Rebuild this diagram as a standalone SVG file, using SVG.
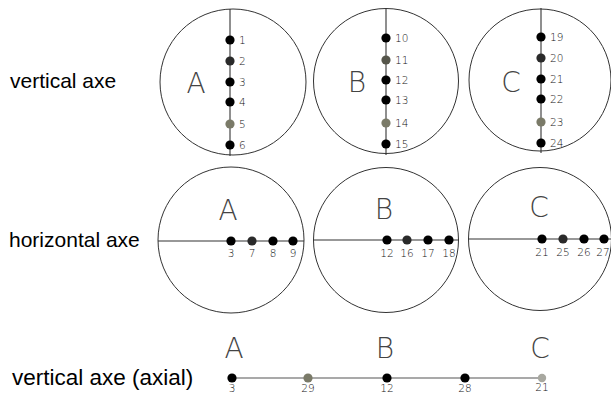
<svg xmlns="http://www.w3.org/2000/svg" width="611" height="394" viewBox="0 0 611 394">
<style>
.bg{fill:#fff}
.ring{fill:none;stroke:#333;stroke-width:1}
.axis{stroke:#333;stroke-width:1.1;fill:none}
.dot{stroke:none}
.k{fill:#000}
.g1{fill:#2a2a2a}
.g2{fill:#55554a}
.g3{fill:#7a7a68}
.g4{fill:#a8a8a0}
.num{font-family:"DejaVu Sans","Liberation Sans",sans-serif;font-weight:200;font-size:10.5px;fill:#111}
.let{font-family:"DejaVu Sans","Liberation Sans",sans-serif;font-weight:200;font-size:28px;fill:#444;text-anchor:middle}
.title{font-family:"Liberation Sans",Arial,sans-serif;font-size:21px;fill:#000}
.mid{text-anchor:middle}
</style>
<rect class="bg" x="0" y="0" width="611" height="394"/>

<g id="row-labels">
<text class="title" x="10" y="88">vertical axe</text>
<text class="title" x="9" y="247">horizontal axe</text>
<text class="title" x="12" y="385" style="font-size:22.5px">vertical axe (axial)</text>
</g>

<g id="connectors">
<line class="axis" x1="230" y1="9" x2="230" y2="156"/>
<line class="axis" x1="386" y1="8" x2="386" y2="155"/>
<line class="axis" x1="541" y1="8" x2="541" y2="153"/>
<line class="axis" x1="158" y1="241" x2="304" y2="241"/>
<line class="axis" x1="314" y1="240" x2="459" y2="240"/>
<line class="axis" x1="469" y1="239" x2="611" y2="239"/>
<line class="axis" x1="232" y1="378" x2="542" y2="378" style="stroke:#555"/>
</g>

<g id="vertical-A">
<circle class="ring" cx="233" cy="82" r="73"/>
<text class="let" x="196" y="93">A</text>
<circle class="dot k" cx="230" cy="40" r="4.6"/>
<circle class="dot g1" cx="230" cy="61" r="4.6"/>
<circle class="dot k" cx="230" cy="82" r="4.6"/>
<circle class="dot k" cx="230" cy="102" r="4.6"/>
<circle class="dot g3" cx="230" cy="124" r="4.6"/>
<circle class="dot k" cx="230" cy="145" r="4.6"/>
<text class="num" x="239" y="44">1</text>
<text class="num" x="239" y="65">2</text>
<text class="num" x="239" y="86">3</text>
<text class="num" x="239" y="106">4</text>
<text class="num" x="239" y="128">5</text>
<text class="num" x="239" y="149">6</text>
</g>

<g id="vertical-B">
<circle class="ring" cx="386" cy="81" r="72.5"/>
<text class="let" x="357" y="92">B</text>
<circle class="dot k" cx="386" cy="38" r="4.6"/>
<circle class="dot g2" cx="386" cy="60" r="4.6"/>
<circle class="dot k" cx="386" cy="80" r="4.6"/>
<circle class="dot k" cx="386" cy="100" r="4.6"/>
<circle class="dot g3" cx="386" cy="123" r="4.6"/>
<circle class="dot k" cx="386" cy="144" r="4.6"/>
<text class="num" x="395" y="42">10</text>
<text class="num" x="395" y="64">11</text>
<text class="num" x="395" y="84">12</text>
<text class="num" x="395" y="104">13</text>
<text class="num" x="395" y="127">14</text>
<text class="num" x="395" y="148">15</text>
</g>

<g id="vertical-C">
<circle class="ring" cx="540" cy="80" r="71"/>
<text class="let" x="511" y="92">C</text>
<circle class="dot k" cx="541" cy="37" r="4.6"/>
<circle class="dot g1" cx="541" cy="58" r="4.6"/>
<circle class="dot k" cx="541" cy="79" r="4.6"/>
<circle class="dot k" cx="541" cy="99" r="4.6"/>
<circle class="dot g3" cx="541" cy="122" r="4.6"/>
<circle class="dot k" cx="541" cy="143" r="4.6"/>
<text class="num" x="550" y="41">19</text>
<text class="num" x="550" y="62">20</text>
<text class="num" x="550" y="83">21</text>
<text class="num" x="550" y="103">22</text>
<text class="num" x="550" y="126">23</text>
<text class="num" x="550" y="147">24</text>
</g>

<g id="horizontal-A">
<circle class="ring" cx="231" cy="240" r="73"/>
<text class="let" x="228" y="220">A</text>
<circle class="dot k" cx="231" cy="241" r="4.6"/>
<circle class="dot g1" cx="252" cy="241" r="4.6"/>
<circle class="dot k" cx="273" cy="241" r="4.6"/>
<circle class="dot k" cx="293" cy="241" r="4.6"/>
<text class="num mid" x="231" y="257">3</text>
<text class="num mid" x="252" y="257">7</text>
<text class="num mid" x="273" y="257">8</text>
<text class="num mid" x="293" y="257">9</text>
</g>

<g id="horizontal-B">
<circle class="ring" cx="386" cy="240" r="72.5"/>
<text class="let" x="384" y="219">B</text>
<circle class="dot k" cx="387" cy="240" r="4.6"/>
<circle class="dot g1" cx="407" cy="240" r="4.6"/>
<circle class="dot k" cx="428" cy="240" r="4.6"/>
<circle class="dot k" cx="449" cy="240" r="4.6"/>
<text class="num mid" x="387" y="257">12</text>
<text class="num mid" x="407" y="257">16</text>
<text class="num mid" x="428" y="257">17</text>
<text class="num mid" x="449" y="257">18</text>
</g>

<g id="horizontal-C">
<circle class="ring" cx="540" cy="239" r="71.5"/>
<text class="let" x="539" y="217">C</text>
<circle class="dot k" cx="542" cy="239" r="4.6"/>
<circle class="dot g1" cx="563" cy="239" r="4.6"/>
<circle class="dot k" cx="584" cy="239" r="4.6"/>
<circle class="dot k" cx="604" cy="239" r="4.6"/>
<text class="num mid" x="542" y="256">21</text>
<text class="num mid" x="563" y="256">25</text>
<text class="num mid" x="584" y="256">26</text>
<text class="num mid" x="603" y="256">27</text>
</g>

<g id="axial">
<text class="let" x="234" y="358">A</text>
<text class="let" x="385" y="358">B</text>
<text class="let" x="540" y="358">C</text>
<circle class="dot k" cx="232" cy="378" r="4.6"/>
<circle class="dot g3" cx="308" cy="378" r="4.6"/>
<circle class="dot k" cx="387" cy="378" r="4.6"/>
<circle class="dot k" cx="465" cy="378" r="4.6"/>
<circle class="dot g4" cx="542" cy="378" r="4.2"/>
<text class="num mid" x="232" y="392">3</text>
<text class="num mid" x="308" y="392">29</text>
<text class="num mid" x="387" y="392">12</text>
<text class="num mid" x="465" y="392">28</text>
<text class="num mid" x="542" y="391">21</text>
</g>
</svg>
